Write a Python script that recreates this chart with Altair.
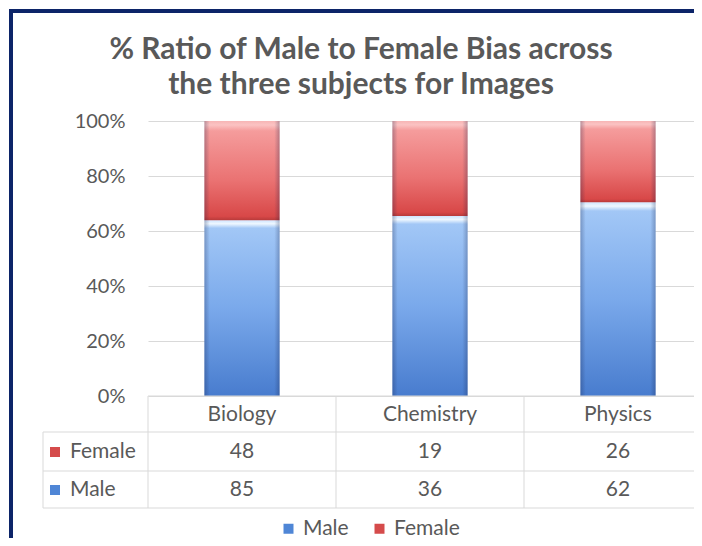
import altair as alt
import pandas as pd

# ---- data ----
subjects = ["Biology", "Chemistry", "Physics"]
male = [85, 36, 62]
female = [48, 19, 26]
series = ["Male", "Female"]
title_lines = ["% Ratio of Male to Female Bias across", "the three subjects for Images"]
y_ticks = [0, 0.2, 0.4, 0.6, 0.8, 1.0]

df = pd.DataFrame({"Subject": subjects, "Male": male, "Female": female})
one = pd.DataFrame({"k": [0]})

FONT = "Lato"
GREY = "#595959"
LINE = "#D9D9D9"
NAVY = "#0C2468"
BLUE = "#4F86D6"
RED = "#D54B4B"
RIGHT = 694  # right edge of drawing on the page
W, H = RIGHT - 148, 275
X0, Y0 = 148, 121  # page position of plot origin


def px(x):
    return x - X0


def py(y):
    return y - Y0


base = alt.Chart(df).transform_calculate(
    male_pct="datum.Male / (datum.Male + datum.Female)",
    top="1",
)

xscale = alt.Scale(domain=subjects, range=[0, 564], paddingInner=0, paddingOuter=0)
x_enc = alt.X("Subject:N", scale=xscale, sort=subjects, axis=None)
x_edge = alt.X("Subject:N", scale=xscale, sort=subjects, axis=None, bandPosition=0)
y_scale = alt.Scale(domain=[0, 1])
y_axis = alt.Axis(values=y_ticks, format="%", title=None, domain=False, ticks=False,
                  labelPadding=23, labelFont=FONT, labelFontSize=20, labelColor=GREY,
                  grid=True, gridColor=LINE, gridWidth=1)

blue_grad = alt.LinearGradient(
    gradient="linear", x1=0, y1=0, x2=0, y2=1,
    stops=[
        alt.GradientStop(offset=0, color="#CFE5FF"),
        alt.GradientStop(offset=0.02, color="#EEF7FF"),
        alt.GradientStop(offset=0.045, color="#A2C7F6"),
        alt.GradientStop(offset=0.5, color="#7AA9EB"),
        alt.GradientStop(offset=1, color="#487CCE"),
    ],
)
red_grad = alt.LinearGradient(
    gradient="linear", x1=0, y1=0, x2=0, y2=1,
    stops=[
        alt.GradientStop(offset=0, color="#F7B5B5"),
        alt.GradientStop(offset=0.04, color="#FBC3C3"),
        alt.GradientStop(offset=0.1, color="#F59C9C"),
        alt.GradientStop(offset=0.6, color="#EA7272"),
        alt.GradientStop(offset=0.96, color="#D84848"),
        alt.GradientStop(offset=1, color="#B83A3A"),
    ],
)
edge_grad = alt.LinearGradient(
    gradient="linear", x1=0, y1=0, x2=1, y2=0,
    stops=[
        alt.GradientStop(offset=0, color="rgba(20,30,70,0.28)"),
        alt.GradientStop(offset=0.07, color="rgba(20,30,70,0)"),
        alt.GradientStop(offset=0.93, color="rgba(20,30,70,0)"),
        alt.GradientStop(offset=1, color="rgba(20,30,70,0.28)"),
    ],
)
bw = alt.RelativeBandSize(band=0.4)

male_bar = base.mark_bar(color=blue_grad, width=bw).encode(
    x=x_enc, y=alt.Y("male_pct:Q", scale=y_scale, axis=y_axis))
female_bar = base.mark_bar(color=red_grad, width=bw).encode(
    x=x_enc, y=alt.Y("male_pct:Q", scale=y_scale, axis=y_axis), y2="top:Q")
edge_bar = base.mark_bar(color=edge_grad, width=bw).encode(
    x=x_enc, y=alt.Y("top:Q", scale=y_scale, axis=y_axis))

txt = dict(font=FONT, fontSize=21, color=GREY)
headers = base.mark_text(**txt).encode(x=x_enc, y=alt.value(py(415)), text="Subject:N")
fem_vals = base.mark_text(**txt).encode(x=x_enc, y=alt.value(py(452)), text="Female:Q")
male_vals = base.mark_text(**txt).encode(x=x_enc, y=alt.value(py(490)), text="Male:Q")
col_lines = base.mark_rule(color=LINE, strokeWidth=1).encode(
    x=x_edge, y=alt.value(py(396)), y2=alt.value(py(508)))

fem_lab = alt.Chart(one).mark_text(align="left", **txt).encode(
    x=alt.value(px(70)), y=alt.value(py(452)), text=alt.value(series[1]))
male_lab = alt.Chart(one).mark_text(align="left", **txt).encode(
    x=alt.value(px(70)), y=alt.value(py(490)), text=alt.value(series[0]))
fem_sw = alt.Chart(one).mark_square(size=100, color=RED, opacity=1).encode(
    x=alt.value(px(55)), y=alt.value(py(452)))
male_sw = alt.Chart(one).mark_square(size=100, color=BLUE, opacity=1).encode(
    x=alt.value(px(55)), y=alt.value(py(490)))


def hline(y, x1, x2, color=LINE, w=1):
    return alt.Chart(one).mark_rule(color=color, strokeWidth=w).encode(
        x=alt.value(px(x1)), x2=alt.value(px(x2)), y=alt.value(py(y)))


def vline(x, y1, y2, color=LINE, w=1):
    return alt.Chart(one).mark_rule(color=color, strokeWidth=w).encode(
        x=alt.value(px(x)), y=alt.value(py(y1)), y2=alt.value(py(y2)))


table_lines = [hline(396, 148, RIGHT), hline(432, 43, RIGHT), hline(471, 43, RIGHT),
               hline(508, 43, RIGHT), vline(43, 432, 508)]
frame = [hline(11, 9, RIGHT, NAVY, 4), vline(11, 9, 538, NAVY, 4)]

title = alt.Chart(one).mark_text(
    font=FONT, fontSize=30, fontWeight="bold", color=GREY,
    baseline="alphabetic", lineHeight=35, align="center",
).encode(x=alt.value(px(361)), y=alt.value(py(59)), text=alt.value(title_lines))

legend_layer = base.transform_fold(series, as_=["series", "v"]).mark_square(size=0).encode(
    x=x_enc, y=alt.value(0),
    color=alt.Color("series:N", scale=alt.Scale(domain=series, range=[BLUE, RED]),
                    legend=alt.Legend(orient="none", legendX=130, legendY=397,
                                      direction="horizontal", title=None,
                                      symbolType="square", symbolSize=100,
                                      symbolOpacity=1, symbolStrokeWidth=0,
                                      labelFont=FONT, labelFontSize=21, labelColor=GREY,
                                      labelOffset=4, columnPadding=20, padding=0)),
)

chart = alt.layer(
    male_bar, female_bar, edge_bar, col_lines, headers, fem_vals, male_vals,
    fem_lab, male_lab, fem_sw, male_sw, *table_lines, *frame, title, legend_layer,
).properties(
    width=W, height=H,
    autosize=alt.AutoSizeParams(type="none"),
    padding={"left": 140, "top": 113, "right": 0, "bottom": 142},
).configure_view(stroke=None)

chart.save("out.html", embed_options={"renderer": "svg", "actions": False})
